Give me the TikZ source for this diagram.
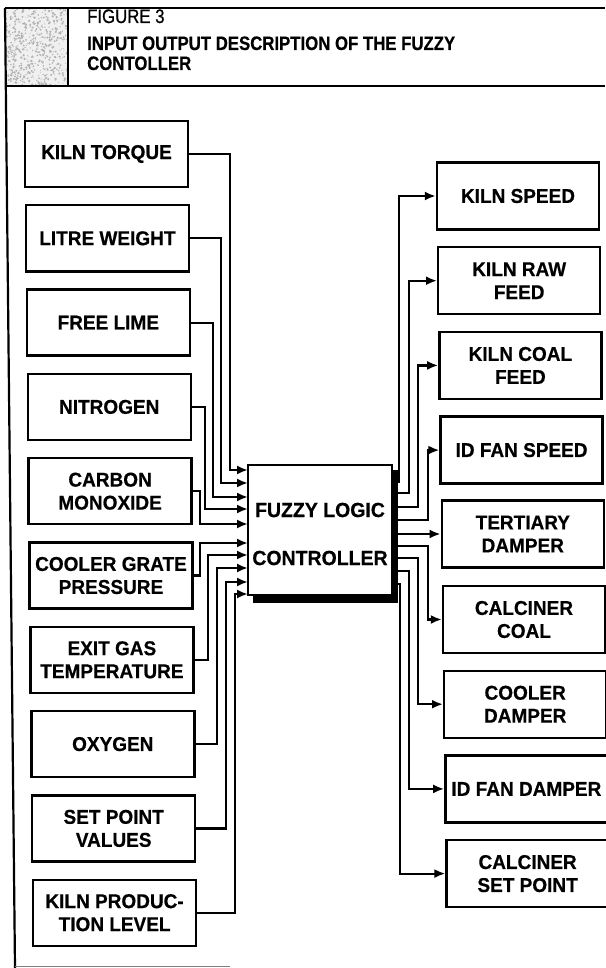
\documentclass[tikz,border=0pt]{standalone}
\usepackage{fontspec}
\setmainfont{Liberation Sans}
\newfontfamily\hdrfont[FakeStretch=0.86,FakeBold=0.4]{Liberation Sans}
\newfontfamily\figfont[FakeStretch=0.86,FakeBold=0.6]{Liberation Sans}
\newfontfamily\boxfont[FakeStretch=0.95,FakeBold=0.5]{Liberation Sans}
\usetikzlibrary{arrows.meta}
\begin{document}
\begin{tikzpicture}[x=1pt,y=-1pt,
  inbox/.style={draw, line width=2.4pt, minimum width=163pt, minimum height=66pt, inner sep=0pt, align=center, font=\boxfont\bfseries\fontsize{20}{23}\selectfont},
  outbox/.style={inbox, minimum width=162pt, minimum height=67pt},
  wire/.style={line width=2.2pt},
  arr/.style={wire, -{Latex[length=11pt,width=9pt]}},
  frame/.style={line width=2.2pt},
  hdr/.style={anchor=base west, inner sep=0pt},
]
\useasboundingbox (0,0) rectangle (605,968);
% ---- frame and header ----
\pgfmathsetseed{7}
\begin{scope}
  \clip (6,9) rectangle (67,85);
  \fill[gray!12] (6,9) rectangle (67,85);
  \foreach \k in {1,...,550}{
    \pgfmathsetmacro\px{6+61*rnd}
    \pgfmathsetmacro\py{9+76*rnd}
    \pgfmathsetmacro\pr{0.4+0.9*rnd}
    \fill[gray!60] (\px,\py) circle[radius=\pr pt];
  }
\end{scope}
\draw[frame] (5,8) -- (605,8);
\draw[frame] (5,86) -- (605,86);
\draw[frame] (68,8) -- (68,86);
\draw[frame] (5,8) -- (15,968);
\draw[line width=1pt, gray] (15,966) -- (230,966);
\node[hdr, font=\figfont\fontsize{19.5}{20}\selectfont] (fig) at (87,23) {FIGURE 3};
\node[hdr, font=\hdrfont\bfseries\fontsize{19.5}{20}\selectfont] (t1) at (87,50) {INPUT OUTPUT DESCRIPTION OF THE FUZZY};
\node[hdr, font=\hdrfont\bfseries\fontsize{19.5}{20}\selectfont] (t2) at (87,70) {CONTOLLER};
% ---- input boxes ----
\node[inbox] (kt)  at (106.5,154)   {KILN TORQUE};
\node[inbox] (lw)  at (107.4,238.3) {LITRE WEIGHT};
\node[inbox] (fl)  at (108.3,322.6) {FREE LIME};
\node[inbox] (ni)  at (109.2,406.9) {NITROGEN};
\node[inbox] (co)  at (110.1,491.2) {CARBON\\MONOXIDE};
\node[inbox] (cgp) at (111.0,575.5) {COOLER GRATE\\PRESSURE};
\node[inbox] (egt) at (111.9,659.8) {EXIT GAS\\TEMPERATURE};
\node[inbox] (ox)  at (112.8,744.1) {OXYGEN};
\node[inbox] (spv) at (113.7,828.4) {SET POINT\\VALUES};
\node[inbox] (kpl) at (114.6,912.7) {KILN PRODUC-\\TION LEVEL};
% ---- output boxes ----
\node[outbox] (ks)   at (518.0,196)   {KILN SPEED};
\node[outbox] (rf)   at (519.2,280.7) {KILN RAW\\FEED};
\node[outbox] (cf)   at (520.4,365.4) {KILN COAL\\FEED};
\node[outbox] (idfs) at (521.6,450.1) {ID FAN SPEED};
\node[outbox] (td)   at (522.8,534)   {TERTIARY\\DAMPER};
\node[outbox] (cc)   at (524.0,619.5) {CALCINER\\COAL};
\node[outbox] (cd)   at (525.2,704.2) {COOLER\\DAMPER};
\node[outbox] (idfd) at (526.4,788.9) {ID FAN DAMPER};
\node[outbox] (csp)  at (527.6,873.6) {CALCINER\\SET POINT};
% ---- controller anchor points ----
\foreach \n/\yy in {1/470,2/483,3/497,4/509,5/524,6/543,7/555,8/568,9/582,10/594}
  \coordinate (in\n) at (248,\yy);
\foreach \n/\yy in {1/482,2/493,3/507,4/520,5/534,6/546,7/558,8/571,9/584}
  \coordinate (out\n) at (392,\yy);
% ---- output wires ----
\draw[arr] (out1) -- ++(7,0)  |- (ks.west);
\draw[arr] (out2) -- ++(17,0) |- (rf.west);
\draw[arr] (out3) -- ++(26,0) |- (cf.west);
\draw[arr] (out4) -- ++(36,0) |- (idfs.west);
\draw[arr] (out5) -- (td.west);
\draw[arr] (out6) -- ++(36,0) |- (cc.west);
\draw[arr] (out7) -- ++(26,0) |- (cd.west);
\draw[arr] (out8) -- ++(17,0) |- (idfd.west);
\draw[arr] (out9) -- ++(8,0)  |- (csp.west);
% ---- controller with shadow ----
\coordinate (cnw) at (248,465);
\coordinate (cse) at (392,595);
\fill ([shift={(5pt,-5pt)}]cnw) rectangle ([shift={(6pt,-8pt)}]cse);
\node[draw, line width=2.4pt, minimum width=144pt, minimum height=130pt, inner sep=0pt, fill=white] (ctrl) at (320,530) {};
\node[align=center, inner sep=0pt, font=\boxfont\bfseries\fontsize{20.5}{48}\selectfont] (ctrltext) at (320,534) {FUZZY LOGIC\\CONTROLLER};
% ---- input wires ----
\draw[arr] (kt.east)  -| ([xshift=-18pt]in1)  -- (in1);
\draw[arr] (lw.east)  -| ([xshift=-27pt]in2)  -- (in2);
\draw[arr] (fl.east)  -| ([xshift=-35pt]in3)  -- (in3);
\draw[arr] (ni.east)  -| ([xshift=-43pt]in4)  -- (in4);
\draw[arr] (co.east)  -| ([xshift=-48pt]in5)  -- (in5);
\draw[arr] (cgp.east) -| ([xshift=-48pt]in6)  -- (in6);
\draw[arr] (egt.east) -| ([xshift=-40pt]in7)  -- (in7);
\draw[arr] (ox.east)  -| ([xshift=-31pt]in8)  -- (in8);
\draw[arr] (spv.east) -| ([xshift=-22pt]in9)  -- (in9);
\draw[arr] (kpl.east) -| ([xshift=-13pt]in10) -- (in10);
\end{tikzpicture}
\end{document}
